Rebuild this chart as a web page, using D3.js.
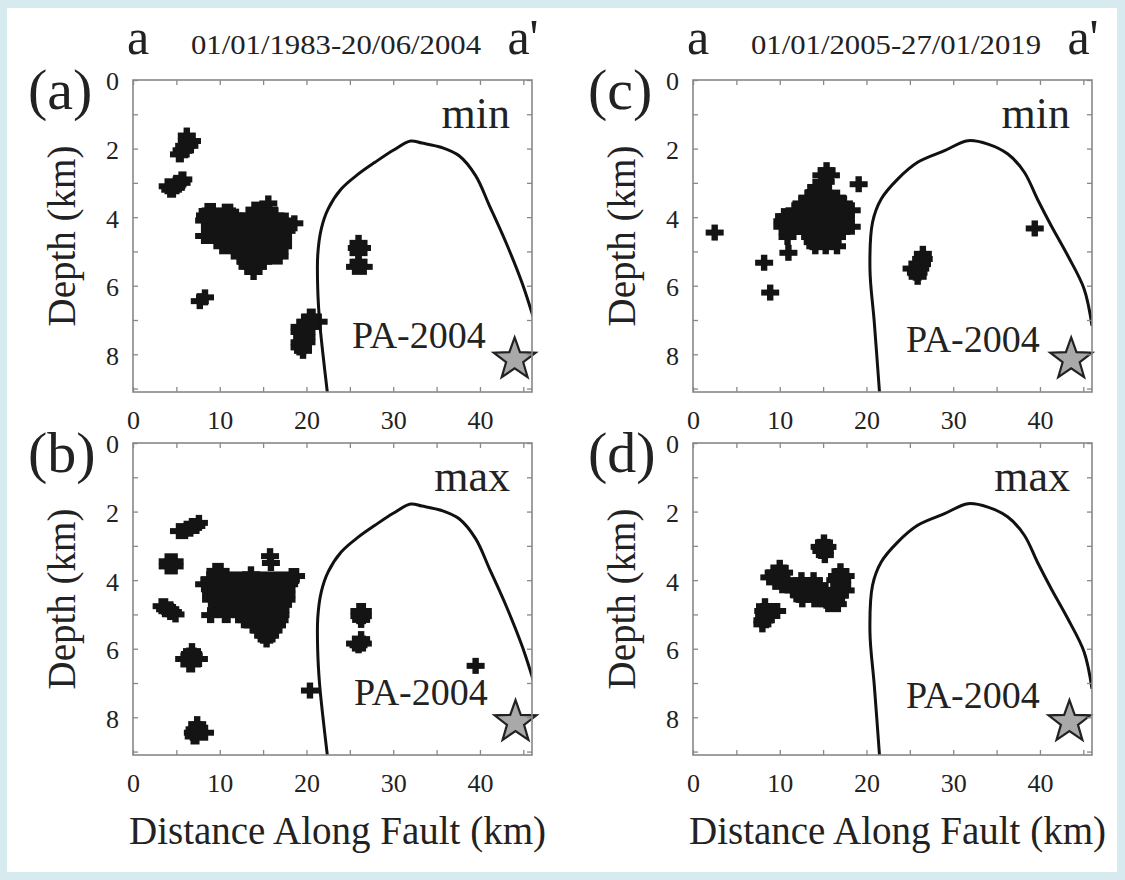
<!DOCTYPE html>
<html>
<head>
<meta charset="utf-8">
<script src="https://cdn.jsdelivr.net/npm/d3@7"></script>
<style>
  body { margin: 0; background: #d6eaf0; }
  svg { display: block; }
  text { font-family: "Liberation Serif", "Times New Roman", serif; fill: #222; }
</style>
</head>
<body>
<script>
(function(){

    //panel labels and periods
    var panelIds = ["(a)", "(b)", "(c)", "(d)"];
    var panelKind = ["min", "max", "min", "max"];
    var periods = ["01/01/1983-20/06/2004", "01/01/2005-27/01/2019"];
    var xTickLabels = [0, 10, 20, 30, 40];
    var yTickLabels = [0, 2, 4, 6, 8];

    //grid cells marked with "+" : [depth, from km, to km] along one grid row
    var runsA = [
        [1.62, 6.2, 6.2], [1.78, 6.2, 6.8], [1.92, 5.9, 6.5], [2.05, 5.6, 6.0], [2.17, 5.3, 5.5],
        [2.9, 5.6, 5.8], [3.0, 5.0, 5.6], [3.1, 4.0, 5.0], [3.2, 4.3, 4.6],
        [3.6, 15.6, 15.6], [3.82, 8.6, 9.2], [3.84, 10.6, 11.2], [3.78, 14.0, 15.7],
        [3.95, 8.3, 11.5], [3.95, 13.4, 16.4], [4.1, 8.2, 17.6], [4.18, 18.6, 18.6],
        [4.25, 9.2, 17.7], [4.4, 9.0, 17.7], [4.55, 8.2, 17.3], [4.7, 10.3, 17.3],
        [4.85, 10.3, 17.3], [5.0, 12.3, 16.9], [5.15, 12.3, 16.9], [5.3, 13.0, 15.0],
        [5.45, 13.2, 14.4], [5.6, 13.9, 13.9],
        [6.34, 8.3, 8.3], [6.45, 7.7, 7.7],
        [6.9, 20.4, 20.7], [7.05, 19.9, 21.4], [7.2, 19.2, 20.4], [7.35, 19.2, 20.0],
        [7.5, 19.5, 20.0], [7.65, 19.2, 20.0], [7.8, 19.2, 19.6], [7.9, 19.6, 19.6],
        [4.75, 26.0, 26.0], [4.9, 25.8, 26.4], [5.05, 26.0, 26.0], [5.3, 26.0, 26.0], [5.45, 25.6, 26.6]
    ];
    var runsB = [
        [2.33, 7.6, 7.6], [2.42, 6.8, 7.3], [2.5, 6.2, 6.6], [2.57, 5.3, 6.0],
        [3.45, 4.0, 4.8], [3.6, 4.0, 4.8],
        [4.76, 3.3, 3.7], [4.85, 3.7, 4.3], [4.93, 4.3, 4.6], [5.0, 4.9, 4.9],
        [6.07, 6.8, 6.8], [6.2, 6.5, 7.0], [6.3, 5.9, 7.6], [6.46, 6.5, 6.8],
        [8.2, 7.4, 7.4], [8.35, 7.1, 7.6], [8.45, 6.9, 8.3], [8.56, 7.0, 7.3],
        [7.22, 20.4, 20.4], [6.5, 39.5, 39.5],
        [4.9, 26.1, 26.5], [5.05, 26.1, 26.5], [5.16, 26.3, 26.3],
        [5.72, 26.3, 26.3], [5.85, 25.6, 26.5], [5.9, 26.0, 26.0],
        [3.3, 15.8, 15.8], [3.5, 15.9, 15.9],
        [3.73, 9.5, 10.1], [3.83, 13.6, 13.6], [3.88, 18.3, 18.8],
        [3.98, 8.8, 18.2], [4.12, 8.2, 18.0], [4.27, 9.0, 17.7], [4.42, 9.0, 17.7],
        [4.57, 9.0, 17.7], [4.72, 10.0, 17.3], [4.87, 10.0, 17.0],
        [5.02, 8.9, 9.0], [5.02, 10.6, 10.9], [5.02, 12.4, 17.0],
        [5.17, 12.8, 16.9], [5.32, 13.8, 16.6], [5.47, 14.6, 16.2], [5.62, 15.0, 15.8], [5.73, 15.4, 15.4]
    ];
    var runsC = [
        [4.45, 2.5, 2.5], [5.33, 8.2, 8.2], [6.2, 8.9, 8.9], [5.04, 11.0, 11.0],
        [3.04, 19.1, 19.1], [4.33, 39.4, 39.4],
        [5.07, 26.5, 26.5], [5.22, 26.3, 26.6], [5.37, 26.1, 26.4], [5.5, 25.2, 26.2],
        [5.62, 25.7, 26.0], [5.74, 25.9, 25.9],
        [2.63, 15.4, 15.4], [2.78, 14.8, 15.9], [2.97, 14.8, 15.3], [3.12, 14.2, 15.0],
        [3.27, 14.0, 15.0], [3.43, 13.2, 16.6], [3.6, 12.5, 17.4], [3.8, 11.7, 18.3],
        [3.97, 10.5, 17.6], [4.12, 10.3, 17.6], [4.28, 10.3, 18.3],
        [4.43, 10.9, 11.5], [4.43, 13.0, 17.1], [4.58, 10.9, 10.9], [4.58, 13.5, 16.6],
        [4.73, 13.8, 16.1], [4.85, 14.1, 14.1], [4.85, 15.3, 15.3], [4.85, 16.6, 16.6]
    ];
    var runsD = [
        [2.9, 15.1, 15.1], [3.03, 14.6, 15.5], [3.15, 14.8, 15.2], [3.27, 15.2, 15.2],
        [3.64, 10.0, 10.0], [3.78, 9.3, 10.5], [3.92, 8.8, 10.2], [4.05, 9.5, 10.5], [4.15, 10.3, 11.0],
        [4.0, 12.5, 12.5], [4.0, 13.9, 13.9], [4.15, 11.6, 14.6], [4.3, 11.6, 15.0],
        [4.43, 12.2, 15.5], [4.56, 12.6, 12.6], [4.56, 14.0, 16.5],
        [3.74, 17.0, 17.0], [3.88, 16.6, 17.6], [4.0, 16.4, 17.2], [4.15, 16.9, 17.2],
        [4.3, 16.2, 17.6], [4.45, 15.8, 16.9], [4.6, 15.4, 16.2], [4.7, 15.6, 16.7],
        [4.76, 8.3, 8.3], [4.9, 8.1, 9.7], [5.03, 8.2, 8.9], [5.17, 8.0, 8.4], [5.29, 8.0, 8.0]
    ];
    var runs = [runsA, runsB, runsC, runsD];

    //PA-2004 rupture outline [km, depth]
    var ruptureEarly = [[22.4, 9.1], [21.9, 8.0], [21.5, 7.0], [21.3, 6.1], [21.3, 5.1], [21.7, 4.35],
        [22.5, 3.76], [24.0, 3.18], [26.0, 2.74], [27.9, 2.4], [30.0, 2.05], [32.0, 1.78],
        [33.3, 1.84], [35.6, 1.97], [37.6, 2.21], [39.5, 2.79], [41.1, 3.67], [43.0, 4.74],
        [44.9, 5.95], [46.3, 7.05]];
    var ruptureLate = [[21.5, 9.1], [20.9, 7.07], [20.4, 5.51], [20.7, 4.15], [21.7, 3.47],
        [23.6, 2.89], [25.9, 2.4], [29.0, 2.06], [31.7, 1.77], [34.0, 1.87], [36.3, 2.16],
        [38.2, 2.69], [39.7, 3.47], [41.3, 4.25], [43.2, 5.12], [45.1, 6.1], [46.0, 7.17]];
    var ruptures = [ruptureEarly, ruptureEarly, ruptureLate, ruptureLate];

    //PA-2004 epicentre
    var starKm = [44.0, 44.1, 43.6, 43.4];
    var starDepth = [8.15, 8.14, 8.15, 8.14];

    //layout
    var width = 1125, height = 880,
        plotW = 399, plotH = 312,
        lefts = [133, 133, 693, 693],
        tops = [80, 443, 80, 443],
        paLeft = [219, 221, 213, 213],
        paBase = [268, 262, 272, 265];

    var svg = d3.select("body").append("svg")
        .attr("width", width)
        .attr("height", height);

    //white page inside the light blue frame
    svg.append("rect")
        .attr("x", 7).attr("y", 8)
        .attr("width", 1110).attr("height", 864)
        .attr("fill", "#fff");

    var x = d3.scaleLinear().domain([0, 46]).range([0, plotW]);
    var y = d3.scaleLinear().domain([0, 9.1]).range([0, plotH]);

    var line = d3.line()
        .x(function(d){ return x(d[0]); })
        .y(function(d){ return y(d[1]); })
        .curve(d3.curveCatmullRom.alpha(0.5));

    function starPath(r1, r2){
        var pts = [];
        for (var k = 0; k < 10; k++){
            var a = -Math.PI / 2 + k * Math.PI / 5, r = k % 2 ? r2 : r1;
            pts.push([Math.cos(a) * r, Math.sin(a) * r]);
        }
        return "M" + pts.join("L") + "Z";
    }

    for (var i = 0; i < 4; i++){
        drawPanel(i);
    }

    function drawPanel(i){
        var g = svg.append("g")
            .attr("transform", "translate(" + lefts[i] + "," + tops[i] + ")");

        g.append("clipPath").attr("id", "clip" + i)
            .append("rect").attr("width", plotW).attr("height", plotH);

        //"+" markers, one horizontal and one vertical bar per grid row run
        var marks = g.append("g").attr("fill", "#141414");
        marks.selectAll(".hbar")
            .data(runs[i])
            .enter()
            .append("rect")
            .attr("x", function(d){ return x(d[1]) - 9; })
            .attr("width", function(d){ return x(d[2]) - x(d[1]) + 18; })
            .attr("y", function(d){ return y(d[0]) - 3; })
            .attr("height", 6);
        marks.selectAll(".vbar")
            .data(runs[i])
            .enter()
            .append("rect")
            .attr("x", function(d){ return x(d[1]) - 3.2; })
            .attr("width", function(d){ return x(d[2]) - x(d[1]) + 6.4; })
            .attr("y", function(d){ return y(d[0]) - 8; })
            .attr("height", 16);

        //rupture outline
        g.append("path")
            .datum(ruptures[i])
            .attr("clip-path", "url(#clip" + i + ")")
            .attr("d", line)
            .attr("fill", "none")
            .attr("stroke", "#111")
            .attr("stroke-width", 3);

        g.append("path")
            .attr("d", starPath(22, 9))
            .attr("transform", "translate(" + x(starKm[i]) + "," + y(starDepth[i]) + ")")
            .attr("fill", "#a9a9a9")
            .attr("stroke", "#222")
            .attr("stroke-width", 2.2);

        g.append("text")
            .attr("x", plotW - 22).attr("y", 48)
            .attr("text-anchor", "end")
            .style("font-size", "44px")
            .text(panelKind[i]);

        g.append("text")
            .attr("x", paLeft[i]).attr("y", paBase[i])
            .style("font-size", "38px")
            .text("PA-2004");

        //axes, ticks inward on all sides
        var xt = d3.range(0, 46, 5), yt = d3.range(0, 10, 1);
        var fmtX = function(d){ return xTickLabels.indexOf(d) >= 0 ? d : ""; };
        var fmtY = function(d){ return yTickLabels.indexOf(d) >= 0 ? d : ""; };

        var axB = g.append("g").attr("transform", "translate(0," + plotH + ")")
            .call(d3.axisBottom(x).tickValues(xt).tickSize(-5).tickPadding(19).tickFormat(fmtX));
        var axT = g.append("g")
            .call(d3.axisTop(x).tickValues(xt).tickSize(-5).tickFormat(""));
        var axL = g.append("g")
            .call(d3.axisLeft(y).tickValues(yt).tickSize(-5).tickPadding(14).tickFormat(fmtY));
        var axR = g.append("g").attr("transform", "translate(" + plotW + ",0)")
            .call(d3.axisRight(y).tickValues(yt).tickSize(-5).tickFormat(""));
        [axB, axT, axL, axR].forEach(function(ax){
            ax.select(".domain").remove();
            ax.selectAll(".tick line").attr("stroke", "#888").attr("stroke-width", 1.3);
            ax.selectAll(".tick text")
                .style("font-size", "26px")
                .style("font-family", "'Liberation Serif', serif")
                .attr("fill", "#444");
        });
        axL.selectAll(".tick text").attr("dy", "0.38em");

        g.append("rect")
            .attr("width", plotW).attr("height", plotH)
            .attr("fill", "none")
            .attr("stroke", "#888")
            .attr("stroke-width", 1.6);

        //panel letter
        g.append("text")
            .attr("x", -105).attr("y", 29)
            .style("font-size", "58px")
            .text(panelIds[i]);

        g.append("text")
            .attr("transform", "translate(-58," + plotH / 2 + ") rotate(-90)")
            .attr("text-anchor", "middle")
            .style("font-size", "39px")
            .attr("fill", "#333")
            .text("Depth (km)");

        if (i % 2 === 0){
            //profile ends and period above top panels
            g.append("text")
                .attr("x", 5).attr("y", -26)
                .attr("text-anchor", "middle")
                .style("font-size", "50px")
                .text("a");
            g.append("text")
                .attr("x", 390).attr("y", -26)
                .attr("text-anchor", "middle")
                .style("font-size", "50px")
                .text("a'");
            g.append("text")
                .attr("x", 58).attr("y", -26)
                .attr("textLength", 290)
                .attr("lengthAdjust", "spacingAndGlyphs")
                .style("font-size", "27px")
                .text(periods[i / 2]);
        } else {
            g.append("text")
                .attr("x", plotW / 2 + 5).attr("y", 401)
                .attr("text-anchor", "middle")
                .style("font-size", "39px")
                .attr("fill", "#333")
                .text("Distance Along Fault (km)");
        }
    }

})();
</script>
</body>
</html>
